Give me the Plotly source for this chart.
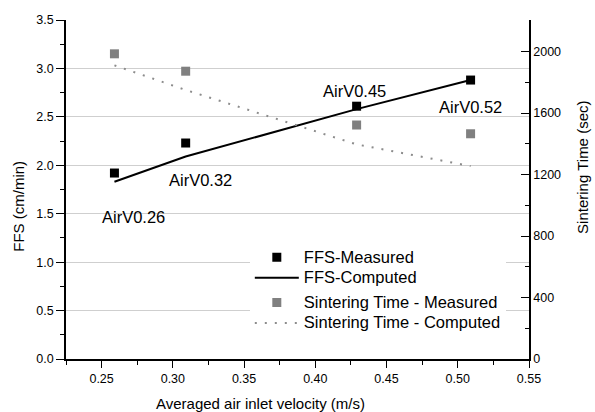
import plotly.graph_objects as go

# ---- data ----
velocity = [0.259, 0.309, 0.429, 0.509]
ffs_measured = [1.92, 2.23, 2.61, 2.88]
ffs_computed = [1.83, 2.09, 2.58, 2.88]
st_measured = [1985, 1872, 1522, 1465]
st_computed = [1910, 1750, 1396, 1255]
labels = ["AirV0.26", "AirV0.32", "AirV0.45", "AirV0.52"]
series_names = ["FFS-Measured", "FFS-Computed", "Sintering Time - Measured", "Sintering Time - Computed"]

FONT = "Arial, Liberation Sans, sans-serif"


def big(t):
    return '<span style="font-size:16.5px">' + t + '</span>'


fig = go.Figure()
fig.add_trace(go.Scatter(x=velocity, y=ffs_measured, mode="markers", name=big(series_names[0]),
                         legendgroup="ffs",
                         marker=dict(symbol="square", size=9, color="black")))
fig.add_trace(go.Scatter(x=velocity, y=ffs_computed, mode="lines", name=big(series_names[1]),
                         legendgroup="ffs",
                         line=dict(color="black", width=2)))
fig.add_trace(go.Scatter(x=velocity, y=st_measured, mode="markers", name=big(series_names[2]),
                         legendgroup="st", yaxis="y2",
                         marker=dict(symbol="square", size=9, color="#808080")))
fig.add_trace(go.Scatter(x=velocity, y=st_computed, mode="lines", name=big(series_names[3]),
                         legendgroup="st", yaxis="y2",
                         line=dict(color="#8c8c8c", width=2, dash="2px,8px")))

# point labels (text positions)
label_pos = [(0.2725, 1.47), (0.3195, 1.85), (0.4278, 2.77), (0.5088, 2.60)]
for t, (lx, ly) in zip(labels, label_pos):
    fig.add_annotation(x=lx, y=ly, text=t, showarrow=False,
                       font=dict(family=FONT, size=16.5, color="black"))

# axis titles
title_font = dict(family=FONT, size=15, color="black")
fig.add_annotation(xref="paper", yref="paper", x=0.421, y=-0.1298, xanchor="center", yanchor="middle",
                   text="Averaged air inlet velocity (m/s)", showarrow=False, font=title_font)
fig.add_annotation(xref="paper", yref="paper", x=-0.1045, y=0.451, xanchor="center", yanchor="middle",
                   text="FFS (cm/min)", textangle=-90, showarrow=False, font=title_font)
fig.add_annotation(xref="paper", yref="paper", x=1.114, y=0.566, xanchor="center", yanchor="middle",
                   text="Sintering Time (sec)", textangle=-90, showarrow=False, font=title_font)

fig.update_layout(
    width=595, height=412,
    margin=dict(l=66, r=66, t=20, b=53),
    paper_bgcolor="white", plot_bgcolor="white",
    font=dict(family=FONT, size=12, color="black"),
    showlegend=True,
    legend=dict(x=0.397, y=0.345, xanchor="left", yanchor="top",
                bgcolor="white", borderwidth=0,
                font=dict(family=FONT, size=13.5, color="black"),
                tracegroupgap=4, itemwidth=44),
    xaxis=dict(range=[0.225, 0.55], tick0=0.25, dtick=0.05, tickformat=".2f",
               showline=True, linecolor="black", linewidth=1.5, mirror=False,
               ticks="outside", ticklen=7, tickwidth=1.2, tickcolor="black",
               minor=dict(dtick=0.025, tick0=0.25, ticks="outside", ticklen=4, tickcolor="black", showgrid=False),
               showgrid=False, zeroline=False, tickfont=dict(size=12.5)),
    yaxis=dict(range=[0, 3.5], dtick=0.5, tickformat=".1f",
               showline=True, linecolor="black", linewidth=1.5,
               ticks="outside", ticklen=8, tickwidth=1.2, tickcolor="black",
               minor=dict(dtick=0.25, ticks="outside", ticklen=4, tickcolor="black", showgrid=False),
               showgrid=True, gridcolor="#cfcfcf", gridwidth=1, zeroline=False, tickfont=dict(size=12.5)),
    yaxis2=dict(range=[0, 2205], dtick=400, overlaying="y", side="right",
                showline=True, linecolor="black", linewidth=1.5,
                ticks="inside", ticklen=8, tickwidth=1.2, tickcolor="black",
                minor=dict(dtick=200, ticks="inside", ticklen=4, tickcolor="black", showgrid=False),
                showgrid=False, zeroline=False, tickfont=dict(size=12.5)),
)

fig.write_html("out.html")
